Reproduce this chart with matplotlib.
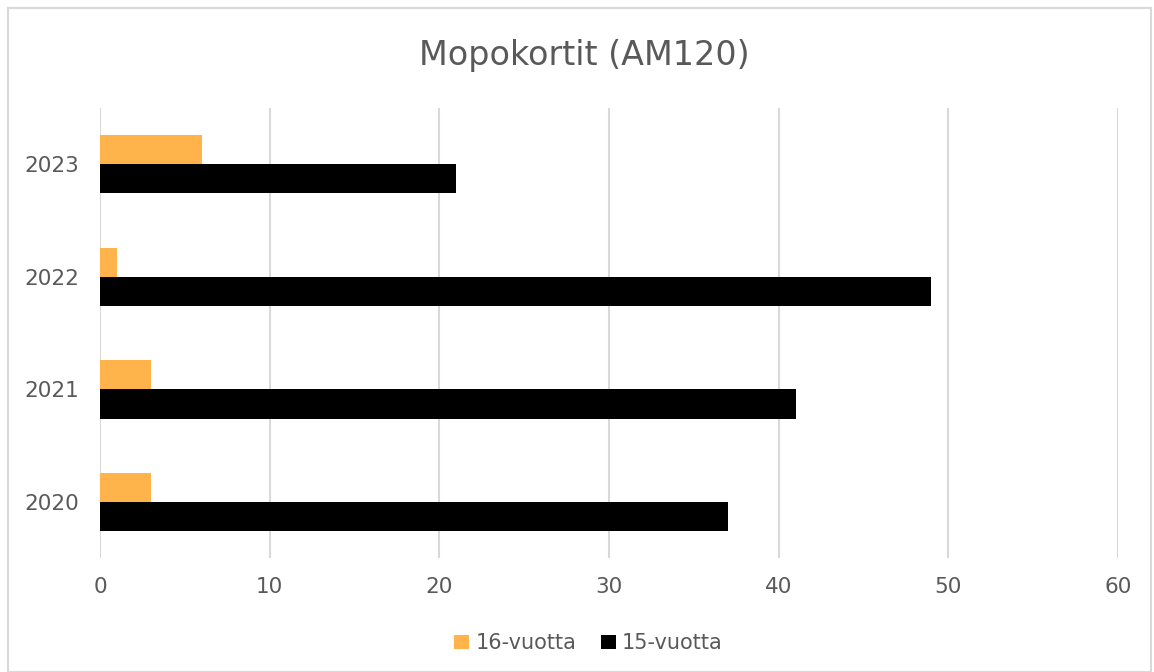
import numpy as np
import matplotlib.pyplot as plt
from matplotlib.patches import Rectangle

# Mopokortit vuosittain
vuodet = ['2020', '2021', '2022', '2023']
vuotta_16 = [3, 3, 1, 6]
vuotta_15 = [37, 41, 49, 21]

harmaa = '#595959'
fig = plt.figure(figsize=(11.54, 6.72), dpi=100)
ax = fig.add_axes([0.0867, 0.1696, 0.8821, 0.6697])

y = np.arange(len(vuodet))
h = 0.26
ax.barh(y + h / 2, vuotta_16, height=h, color='#FFB34A', label='16-vuotta', zorder=3)
ax.barh(y - h / 2, vuotta_15, height=h, color='black', label='15-vuotta', zorder=3)

ax.set_xlim(0, 60)
ax.set_ylim(-0.5, len(vuodet) - 0.5)
ax.set_xticks(range(0, 61, 10))
ax.set_yticks(y)
ax.set_yticklabels(vuodet)
ax.tick_params(axis='both', length=0, labelsize=15.5, labelcolor=harmaa)
ax.tick_params(axis='x', pad=14)
ax.tick_params(axis='y', pad=15)
ax.grid(axis='x', color='#d9d9d9', linewidth=1.5, zorder=0)
for s in ax.spines.values():
    s.set_visible(False)

fig.text(0.506, 0.918, 'Mopokortit (AM120)', fontsize=24, color=harmaa,
         ha='center', va='center')
ax.legend(loc='center', bbox_to_anchor=(0.51, 0.043), bbox_transform=fig.transFigure,
          ncol=2, frameon=False, fontsize=15, labelcolor=harmaa,
          handlelength=0.7, handleheight=0.7, handletextpad=0.3, columnspacing=1.2)

# kehys kuvan ympärille
fig.patches.append(Rectangle((0.007, 0.0), 0.99, 0.988, transform=fig.transFigure,
                             fill=False, edgecolor='#d9d9d9', linewidth=1.5))

fig.savefig('out.png', dpi=100)
